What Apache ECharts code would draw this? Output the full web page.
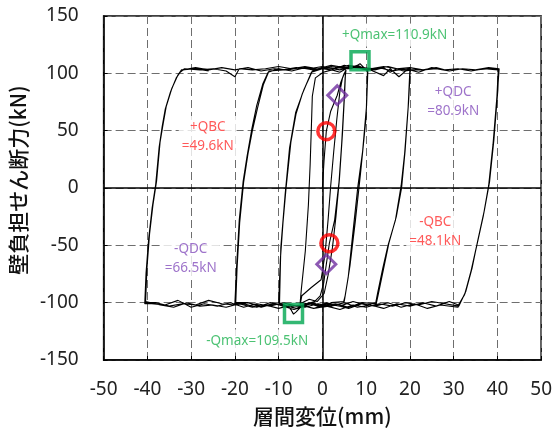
<!DOCTYPE html>
<html><head><meta charset="utf-8">
<script src="https://cdn.jsdelivr.net/npm/echarts@6/dist/echarts.min.js"></script>
<style>html,body{margin:0;padding:0;background:#fff}#c{width:555px;height:435px}</style>
</head><body><div id="c"></div>
<script>
// tick settings
const xTicks = [-50,-40,-30,-20,-10,0,10,20,30,40,50];
const yTicks = [-150,-100,-50,0,50,100,150];

// hysteresis path (displacement mm, shear kN), in loading order
const initLoad = [[0,0],[0.4,25],[0.9,49.6],[1.9,67],[3.4,80.9],[4.2,92],[4.9,99],[5.4,103]];
const cyc5a = [[5.2,96],[4.9,72],[4.4,38],[3.8,5],[2.8,-28],[1.6,-48.1],[0.9,-66.5],[0.3,-83],[-0.5,-94],[-1.8,-99],[-3.4,-101],[-5.0,-100],[-4.7,-94],[-2.6,-87],[-0.3,-80],[0.6,-58],[1.3,-28],[1.9,2],[2.6,32],[3.3,60],[4.0,84],[4.6,96],[5.3,102]];
const cyc5b = [[5.1,84],[4.6,48],[3.9,8],[3.1,-25],[2.3,-52],[1.3,-76],[0.4,-92],[-1.2,-99],[-3.0,-97],[-5.1,-101],[-4.8,-88],[-3.9,-55],[-3.2,-15],[-2.8,20],[-2.5,55],[-2.3,80],[-1.6,96],[0.2,101],[2.2,103],[4.0,101],[5.4,104]];
const cyc10a = [[6.6,104],[7.6,106],[8.6,108.5],[9.5,105],[10.4,103],[10.1,72],[9.2,32],[8.1,1],[7.0,-38],[5.9,-78],[5.2,-94],[4.8,-100],[3.0,-102],[1.0,-100],[-1.0,-103],[-3.0,-101],[-5.0,-104],[-6.0,-108],[-6.6,-110],[-7.2,-106],[-8.0,-103],[-10.0,-100],[-9.6,-62],[-9.0,-30],[-8.3,0],[-7.2,40],[-6.0,65],[-4.6,82],[-3.5,92],[-2.5,101],[0,104],[2,103],[4,106],[6,104],[8,107],[10.3,103]];
const cyc10b = [[10.0,62],[8.7,12],[7.5,-30],[6.3,-68],[5.3,-92],[5.0,-99],[2.0,-100],[0,-104],[-2,-100],[-4,-103],[-6.5,-106],[-8.2,-104],[-9.8,-101],[-9.5,-52],[-8.5,-5],[-7.5,35],[-6.1,66],[-4.2,86],[-3.0,96],[-2.3,102],[0,105],[3,104],[5,107],[7.5,105],[10.2,104]];
const cyc20a = [[12,103],[14,105],[15.5,101],[17,104],[18.5,102],[20,103],[19.6,70],[18.8,30],[18.0,2],[16.7,-28],[15.0,-50],[13.8,-70],[12.6,-92],[12.2,-100],[10,-102],[7,-99],[4,-103],[1,-101],[-2,-105],[-5,-102],[-8,-104],[-11,-101],[-14,-103],[-17,-100],[-19.8,-100],[-19.5,-70],[-18.9,-30],[-18.0,5],[-17.0,30],[-16.0,50],[-14.8,70],[-13.5,90],[-12.2,102],[-9,103],[-6,105],[-3,104],[0,106],[3,104],[6,107],[9,105],[12,104],[15,106],[18,103],[20.1,104]];
const cyc20b = [[19.7,75],[18.9,32],[18.1,0],[16.9,-25],[15.2,-48],[13.9,-72],[12.7,-94],[12.3,-101],[9,-100],[6,-104],[3,-101],[0,-103],[-3,-100],[-6,-105],[-9,-102],[-12,-100],[-15,-104],[-18,-101],[-20.0,-101],[-19.6,-68],[-19.0,-28],[-18.1,6],[-17.2,28],[-16.1,52],[-15.0,72],[-13.6,91],[-12.4,101],[-10,104],[-7,102],[-4,105],[-1,103],[2,106],[5,104],[8,106],[11,103],[14,98],[15.5,104],[17.5,97],[19,102],[20.2,103]];
const cyc40a = [[23,103],[26,105],[29,102],[32,104],[35,103],[38,104],[40.3,103],[40.1,85],[39.2,42],[38.2,5],[37.0,-20],[35.5,-46],[34.2,-70],[32.8,-90],[31.2,-103],[28,-101],[25,-99],[22,-102],[19,-100],[16,-103],[13,-101],[10,-104],[7,-102],[4,-106],[1,-103],[-2,-105],[-5,-102],[-8,-104],[-11,-101],[-14,-104],[-17,-100],[-20,-102],[-23,-101],[-26,-98],[-29,-102],[-32,-101],[-35,-103],[-38,-100],[-40.5,-100],[-40.2,-72],[-39.6,-42],[-38.8,-15],[-38.0,5],[-37.2,38],[-36.5,55],[-35.8,70],[-34.5,86],[-33.2,97],[-32.3,102],[-31.5,104],[-28,103],[-25,104],[-22,102],[-20,97],[-19,104],[-16,103],[-13,104],[-10,106],[-7,104],[-4,106],[-1,104],[2,107],[5,105],[8,106],[11,104],[14,106],[17,104],[20,105],[23,103],[26,104],[29,102],[32,104],[35,103],[38,105],[40.4,104]];
const cyc40b = [[40.0,82],[39.1,40],[38.1,3],[36.9,-22],[35.4,-48],[34.0,-72],[32.6,-92],[31.0,-104],[27,-102],[24,-105],[21,-101],[18,-104],[15,-100],[12,-103],[9,-101],[6,-105],[3,-102],[0,-104],[-3,-101],[-6,-103],[-9,-100],[-12,-103],[-15,-101],[-18,-104],[-21,-100],[-24,-103],[-27,-101],[-30,-104],[-33,-98],[-36,-102],[-39,-101],[-40.6,-101],[-40.3,-74],[-39.7,-44],[-38.9,-17],[-38.1,3],[-37.3,36],[-36.6,54],[-35.9,69],[-34.7,84],[-33.4,96],[-32.5,101],[-31.8,103],[-29,105],[-26,103],[-23,105],[-20,103],[-17,105],[-14,102],[-11,104],[-8,103],[-5,105],[-2,103],[1,105],[4,103],[7,106],[10,103],[13,105],[16,102],[19,104],[22,101],[25,105],[28,103],[31,104],[34,102],[37,104],[40.2,103]];
const cyc40c = [[39.9,80],[39.0,38],[38.0,2],[36.8,-24],[35.3,-50],[33.9,-74],[32.5,-93],[31.1,-102],[29,-99],[26,-103],[23,-100],[20,-103],[17,-101],[14,-105],[11,-102],[8,-104],[5,-100],[2,-103],[-1,-101],[-4,-104],[-7,-102],[-10,-105],[-13,-102],[-16,-104],[-19,-101],[-22,-104],[-25,-102],[-28,-103],[-31,-100],[-34,-104],[-37,-102],[-40.4,-99],[-40.1,-70],[-39.5,-40],[-38.7,-14],[-37.9,6],[-37.1,40],[-36.4,56],[-35.7,71],[-34.4,87],[-33.1,98],[-32.2,103],[-29,104],[-26,102]];

// characteristic points
const qbcPts = [[0.9,49.6],[1.6,-48.1]];
const qdcPts = [[3.4,80.9],[0.9,-66.5]];
const qmaxPts = [[8.6,110.9],[-6.6,-109.5]];

// annotation texts (x, y, text)
const redNotes = [[-26.2,44.5,'+QBC\n=49.6kN'],[25.8,-38.4,'-QBC\n=48.1kN']];
const purpleNotes = [[29.9,75,'+QDC\n=80.9kN'],[-30.1,-62,'-QDC\n=66.5kN']];
const greenNotes = [[16.5,133.4,'+Qmax=110.9kN'],[-14.9,-133.4,'-Qmax=109.5kN']];

const path = [].concat(initLoad, cyc5a, cyc5b, cyc10a, cyc10b, cyc20a, cyc20b, cyc40a, cyc40b, cyc40c);

function noteSeries(notes, color){
  return {type:'scatter', symbolSize:1, itemStyle:{color:'rgba(0,0,0,0)'}, silent:true, z:5,
    data: notes.map(n=>({value:[n[0],n[1]], label:{formatter:n[2]}})),
    label:{show:true, position:'inside', color:color, fontSize:13.5, lineHeight:19, fontFamily:'Noto Sans',
      backgroundColor:'#fff', padding:[2,3]}};
}

const chart = echarts.init(document.getElementById('c'), null, {renderer:'canvas'});
chart.setOption({
  animation:false,
  backgroundColor:'#fff',
  grid:{left:103,right:10,top:16,bottom:75,show:true,borderColor:'#000',borderWidth:1.5},
  xAxis:{type:'value',min:xTicks[0],max:xTicks[xTicks.length-1],interval:10,
    axisLine:{onZero:false,lineStyle:{color:'#000',width:1.5}},
    axisTick:{inside:true,length:4,lineStyle:{color:'#000'}},
    axisLabel:{fontSize:19,color:'#222',margin:20,fontFamily:'Noto Sans'},
    splitLine:{lineStyle:{color:'#6e6e6e',type:[8,4],width:1}},
    name:'層間変位(mm)',nameLocation:'middle',nameGap:46,
    nameTextStyle:{fontSize:21,color:'#111',fontFamily:'Noto Sans CJK JP',fontWeight:500}},
  yAxis:{type:'value',min:yTicks[0],max:yTicks[yTicks.length-1],interval:50,
    axisLine:{onZero:false,lineStyle:{color:'#000',width:1.5}},
    axisTick:{inside:true,length:4,lineStyle:{color:'#000'}},
    axisLabel:{fontSize:19,color:'#222',margin:25,fontFamily:'Noto Sans'},
    splitLine:{lineStyle:{color:'#6e6e6e',type:[8,4],width:1}},
    name:'壁負担せん断力(kN)',nameLocation:'middle',nameGap:62,nameRotate:90,
    nameTextStyle:{fontSize:21,color:'#111',fontFamily:'Noto Sans CJK JP',fontWeight:500,padding:[0,0,0,16]}},
  series:[
    {type:'line',data:path,showSymbol:false,symbol:'none',smooth:false,z:3,
     lineStyle:{color:'#000',width:1.1},
     markLine:{silent:true,symbol:'none',label:{show:false},animation:false,
       lineStyle:{color:'#000',type:'solid',width:1.5},
       data:[{xAxis:0},{yAxis:0}]}},
    {type:'scatter',data:qbcPts,symbol:'circle',symbolSize:17,z:6,
     itemStyle:{color:'rgba(0,0,0,0)',borderColor:'#ff0000',borderWidth:3.5}},
    {type:'scatter',data:qdcPts,symbol:'diamond',symbolSize:[19,19],z:6,
     itemStyle:{color:'rgba(0,0,0,0)',borderColor:'#7030a0',borderWidth:3}},
    {type:'scatter',data:qmaxPts,symbol:'rect',symbolSize:18,z:6,
     itemStyle:{color:'rgba(0,0,0,0)',borderColor:'#00a650',borderWidth:3.5}},
    noteSeries(redNotes,'#ff3030'),
    noteSeries(purpleNotes,'#8650bd'),
    noteSeries(greenNotes,'#1fb350')
  ]
});
</script></body></html>
